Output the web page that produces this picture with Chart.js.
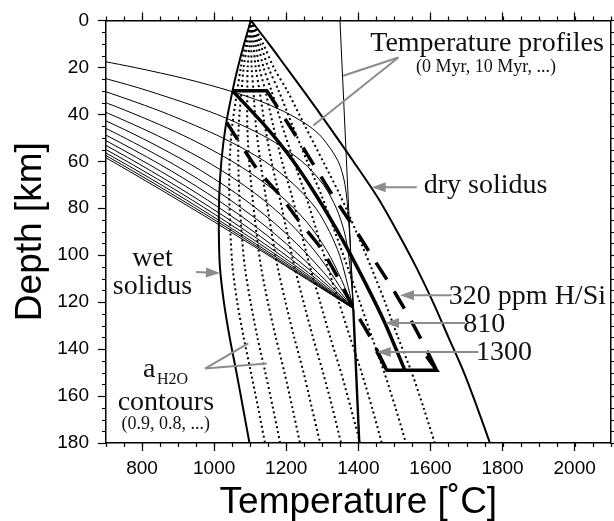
<!DOCTYPE html>
<html>
<head>
<meta charset="utf-8">
<script src="https://cdn.jsdelivr.net/npm/chart.js@4.4.1/dist/chart.umd.min.js"></script>
<style>
  html, body { margin: 0; padding: 0; background: #fff; }
  canvas { display: block; }
</style>
</head>
<body>
<canvas id="myChart" width="614" height="521"></canvas>
<script>
// solidus curves and water activity contours, sampled at these depths (km)
const contourDepths = [0, 10, 20, 30, 45, 60, 75, 90, 105, 120, 135, 150, 165, 180];
const wetSolidus = [1102, 1083, 1066, 1051, 1032, 1020, 1014, 1013, 1016, 1027, 1043, 1062, 1080, 1098];
const drySolidus = [1102, 1152, 1200, 1248, 1318, 1386, 1452, 1508, 1560, 1607, 1650, 1693, 1730, 1765];
const aw09 = [1102, 1087, 1074, 1064, 1050, 1043, 1042, 1045, 1051, 1064, 1082, 1102, 1122, 1141];
const aw08 = [1102, 1092, 1082, 1076, 1068, 1067, 1070, 1076, 1085, 1101, 1120, 1142, 1163, 1183];
const aw07 = [1102, 1098, 1093, 1092, 1092, 1097, 1106, 1117, 1130, 1149, 1171, 1195, 1217, 1238];
const aw06 = [1102, 1103, 1104, 1109, 1116, 1128, 1143, 1159, 1176, 1198, 1222, 1248, 1271, 1294];
const aw05 = [1102, 1109, 1115, 1126, 1141, 1159, 1181, 1202, 1223, 1248, 1274, 1302, 1328, 1352];
const aw04 = [1102, 1115, 1125, 1142, 1164, 1188, 1216, 1241, 1266, 1294, 1322, 1352, 1379, 1405];
const aw03 = [1102, 1121, 1137, 1159, 1189, 1221, 1255, 1285, 1315, 1346, 1377, 1409, 1438, 1465];
const aw02 = [1102, 1128, 1150, 1179, 1218, 1258, 1299, 1335, 1370, 1404, 1438, 1472, 1503, 1532];
const aw01 = [1102, 1136, 1165, 1203, 1252, 1302, 1351, 1394, 1435, 1474, 1510, 1548, 1581, 1612];

// temperature profiles [T, depth]
const p0 = [[1349, 0], [1386, 122.7]];
const p10 = [[609, 15], [778, 20], [924, 25], [1043, 30], [1138, 35], [1209, 40], [1263, 45], [1300, 50], [1344, 60], [1363, 70], [1373, 85], [1379, 100], [1386, 122.7]];
const p20 = [[577, 20], [704, 25], [817, 30], [1007, 40], [1147, 50], [1243, 60], [1303, 70], [1339, 80], [1361, 90], [1373, 100], [1380, 110], [1386, 122.7]];
const p30 = [[590, 25], [692, 30], [786, 35], [873, 40], [1023, 50], [1140, 60], [1222, 70], [1282, 80], [1320, 90], [1348, 100], [1366, 110], [1386, 122.7]];
const plateDepths = [24.5, 36.8, 49.1, 61.35, 73.6, 85.9, 98.2, 110.4, 122.7];
const p40 = [508, 729, 916, 1064, 1176, 1257, 1313, 1353, 1386];
const p50 = [458, 663, 843, 993, 1113, 1207, 1279, 1336, 1386];
const p60 = [420, 613, 786, 935, 1060, 1164, 1249, 1321, 1386];
const p70 = [392, 574, 740, 888, 1017, 1128, 1223, 1307, 1386];
const p80 = [368, 542, 703, 850, 981, 1098, 1201, 1296, 1386];
const p90 = [350, 517, 674, 819, 952, 1072, 1183, 1286, 1386];
const p100 = [335, 497, 650, 794, 927, 1052, 1168, 1278, 1386];
const p110 = [323, 480, 630, 773, 908, 1035, 1156, 1272, 1386];
const p120 = [314, 467, 614, 756, 892, 1021, 1146, 1267, 1386];
const p130 = [306, 456, 602, 743, 879, 1011, 1138, 1262, 1386];
const p140 = [299, 447, 591, 732, 868, 1001, 1131, 1259, 1386];
const adiabat = [[1386, 122.7], [1402.6, 180]];

// melting region outlines for the three H/Si contents
const h320 = [[1176, 37], [1230, 50], [1282, 63], [1335, 76], [1387, 88], [1440, 101], [1490, 113], [1536, 125], [1578, 137], [1617, 149]];
const h810 = [[1051, 30], [1136, 44], [1210, 58], [1285, 75], [1358, 94], [1420, 112], [1474, 129], [1529, 149]];
const h1300 = [[1035, 43.5], [1067, 51.2], [1122, 64], [1183, 74.6], [1238, 86], [1294, 96.6], [1345, 110], [1387, 122.7], [1437, 136], [1479, 149]];
const boxTop = [[1051, 30], [1146, 30], [1176, 37]];
const boxBottom = [[1451, 141], [1479, 149], [1617, 149], [1589, 143]];

const xTicks = [800, 1000, 1200, 1400, 1600, 1800, 2000];
const yTicks = [0, 20, 40, 60, 80, 100, 120, 140, 160, 180];

// text labels and pointer lines, in data coordinates
const labels = [
  { text: 'Temperature profiles', t: 1757, d: 12.96, size: 28 },
  { text: '(0 Myr, 10 Myr, ...)', t: 1754, d: 21.9, size: 18 },
  { text: 'dry solidus', t: 1753, d: 73.6, size: 28 },
  { text: 'wet', t: 829, d: 104.7, size: 28 },
  { text: 'solidus', t: 829, d: 116.4, size: 28 },
  { text: 'a', t: 802.6, d: 151.8, size: 28, align: 'left' },
  { text: 'H2O', t: 841.5, d: 154.9, size: 16, align: 'left' },
  { text: 'contours', t: 866, d: 166, size: 28 },
  { text: '(0.9, 0.8, ...)', t: 866, d: 174.2, size: 18 },
  { text: '320 ppm H/Si', t: 1869, d: 120.9, size: 28 },
  { text: '810', t: 1749, d: 132.7, size: 28 },
  { text: '1300', t: 1804, d: 144.7, size: 28 }
];
const pointers = [
  { from: [1511, 15.8], to: [1358, 23.6] },
  { from: [1511, 15.8], to: [1275, 44.8] },
  { from: [974.6, 148.3], to: [1094.7, 137.6] },
  { from: [974.6, 148.3], to: [1145.8, 146.1] },
  { from: [1562, 71.1], to: [1437, 71.1], head: true },
  { from: [949.7, 107.2], to: [1016, 107.6], head: true },
  { from: [1659, 117.1], to: [1515.6, 117.1], head: true },
  { from: [1696, 128.9], to: [1474, 128.9], head: true },
  { from: [1733, 141.2], to: [1451, 141.2], head: true }
];

const pairs = arr => arr.map(p => ({ x: p[0], y: p[1] }));
const onDepths = (temps, depths) => temps.map((t, i) => ({ x: t, y: depths[i] }));

function line(data, width, extra) {
  return Object.assign({
    data: data,
    showLine: true,
    borderColor: '#000',
    borderWidth: width,
    pointRadius: 0,
    fill: false,
    tension: 0.3
  }, extra || {});
}

const datasets = [];
[p10, p20, p30].forEach(p => datasets.push(line(pairs(p), 1)));
[p40, p50, p60, p70, p80, p90, p100, p110, p120, p130, p140].forEach(p => datasets.push(line(onDepths(p, plateDepths), 1)));
datasets.push(line(pairs(p0), 1, { tension: 0 }));
datasets.push(line(pairs(adiabat), 2.4, { tension: 0 }));
[aw09, aw08, aw07, aw06, aw05, aw04, aw03, aw02, aw01].forEach(a =>
  datasets.push(line(onDepths(a, contourDepths), 2, { borderDash: [2, 3], borderCapStyle: 'butt' })));
datasets.push(line(onDepths(wetSolidus, contourDepths), 2));
datasets.push(line(onDepths(drySolidus, contourDepths), 2));
datasets.push(line(pairs(h810), 3.5, { tension: 0.2 }));
datasets.push(line(pairs(h320), 3.5, { tension: 0.2, borderDash: [20, 14], borderDashOffset: 20 }));
datasets.push(line(pairs(h1300), 3.5, { tension: 0.2, borderDash: [20, 14] }));
datasets.push(line(pairs(boxTop), 3.5, { tension: 0 }));
datasets.push(line(pairs(boxBottom), 3.5, { tension: 0 }));

const minorTicks = {
  id: 'minorTicks',
  afterDraw(chart) {
    const { ctx, chartArea: a, scales: { x, y } } = chart;
    ctx.save();
    ctx.strokeStyle = '#000';
    ctx.lineWidth = 1.2;
    ctx.beginPath();
    for (let t = 700; t <= 2100; t += 50) {
      const px = Math.round(x.getPixelForValue(t)) + 0.5;
      ctx.moveTo(px, a.bottom); ctx.lineTo(px, a.bottom + 4);
      ctx.moveTo(px, a.top); ctx.lineTo(px, a.top - 4);
    }
    for (let d = 0; d <= 180; d += 5) {
      const py = Math.round(y.getPixelForValue(d)) + 0.5;
      ctx.moveTo(a.left, py); ctx.lineTo(a.left - 4, py);
      ctx.moveTo(a.right, py); ctx.lineTo(a.right + 4, py);
    }
    ctx.stroke();
    ctx.restore();
  }
};

const notes = {
  id: 'notes',
  afterDatasetsDraw(chart) {
    const { ctx, scales: { x, y } } = chart;
    ctx.save();
    ctx.strokeStyle = '#8c8c8c';
    ctx.fillStyle = '#8c8c8c';
    ctx.lineWidth = 2;
    pointers.forEach(p => {
      const x1 = x.getPixelForValue(p.from[0]), y1 = y.getPixelForValue(p.from[1]);
      const x2 = x.getPixelForValue(p.to[0]), y2 = y.getPixelForValue(p.to[1]);
      const ang = Math.atan2(y2 - y1, x2 - x1);
      const len = p.head ? 13 : 0;
      ctx.beginPath();
      ctx.moveTo(x1, y1);
      ctx.lineTo(x2 - len * Math.cos(ang), y2 - len * Math.sin(ang));
      ctx.stroke();
      if (p.head) {
        ctx.beginPath();
        ctx.moveTo(x2, y2);
        ctx.lineTo(x2 - 14 * Math.cos(ang) + 5 * Math.sin(ang), y2 - 14 * Math.sin(ang) - 5 * Math.cos(ang));
        ctx.lineTo(x2 - 14 * Math.cos(ang) - 5 * Math.sin(ang), y2 - 14 * Math.sin(ang) + 5 * Math.cos(ang));
        ctx.closePath();
        ctx.fill();
      }
    });
    ctx.fillStyle = '#111';
    ctx.textBaseline = 'alphabetic';
    labels.forEach(l => {
      ctx.font = l.size + 'px "Liberation Serif", serif';
      ctx.textAlign = l.align || 'center';
      ctx.fillText(l.text, x.getPixelForValue(l.t), y.getPixelForValue(l.d));
    });
    ctx.restore();
  }
};

const tickFont = { family: 'Liberation Sans', size: 19 };
const titleFont = { family: 'Liberation Sans', size: 37, lineHeight: 1 };
const frame = { color: '#000', width: 1.5 };
const plain = v => String(v);

const ctx = document.getElementById('myChart').getContext('2d');

const myChart = new Chart(ctx, {
  type: 'scatter',
  data: { datasets: datasets },
  options: {
    responsive: false,
    devicePixelRatio: 1,
    animation: false,
    layout: { padding: 0 },
    elements: { line: { capBezierPoints: false } },
    plugins: { legend: { display: false }, tooltip: { enabled: false } },
    scales: {
      x: {
        type: 'linear', position: 'bottom', min: 700, max: 2100,
        afterBuildTicks: s => { s.ticks = xTicks.map(v => ({ value: v })); },
        ticks: { color: '#000', font: tickFont, padding: 6, maxRotation: 0, callback: plain },
        grid: { drawOnChartArea: false, tickLength: 8, color: '#000', tickWidth: 1.2 },
        border: frame,
        title: { display: true, text: 'Temperature [˚C]', color: '#000', font: titleFont, padding: { top: 0, bottom: 0 } },
        afterFit: s => { s.height = 78; }
      },
      x2: {
        type: 'linear', position: 'top', min: 700, max: 2100,
        afterBuildTicks: s => { s.ticks = xTicks.map(v => ({ value: v })); },
        ticks: { display: false },
        grid: { drawOnChartArea: false, tickLength: 8, color: '#000', tickWidth: 1.2 },
        border: frame,
        afterFit: s => { s.height = 19.5; }
      },
      y: {
        type: 'linear', position: 'left', reverse: true, min: 0, max: 180,
        afterBuildTicks: s => { s.ticks = yTicks.map(v => ({ value: v })); },
        ticks: { color: '#000', font: tickFont, padding: 9, callback: plain },
        grid: { drawOnChartArea: false, tickLength: 8, color: '#000', tickWidth: 1.2 },
        border: frame,
        title: { display: true, text: 'Depth [km]', color: '#000', font: titleFont, padding: { top: 12, bottom: 0 } },
        afterFit: s => { s.width = 106; }
      },
      y2: {
        type: 'linear', position: 'right', reverse: true, min: 0, max: 180,
        afterBuildTicks: s => { s.ticks = yTicks.map(v => ({ value: v })); },
        ticks: { display: false },
        grid: { drawOnChartArea: false, tickLength: 8, color: '#000', tickWidth: 1.2 },
        border: frame,
        afterFit: s => { s.width = 3.3; }
      }
    }
  },
  plugins: [minorTicks, notes]
});
</script>
</body>
</html>
